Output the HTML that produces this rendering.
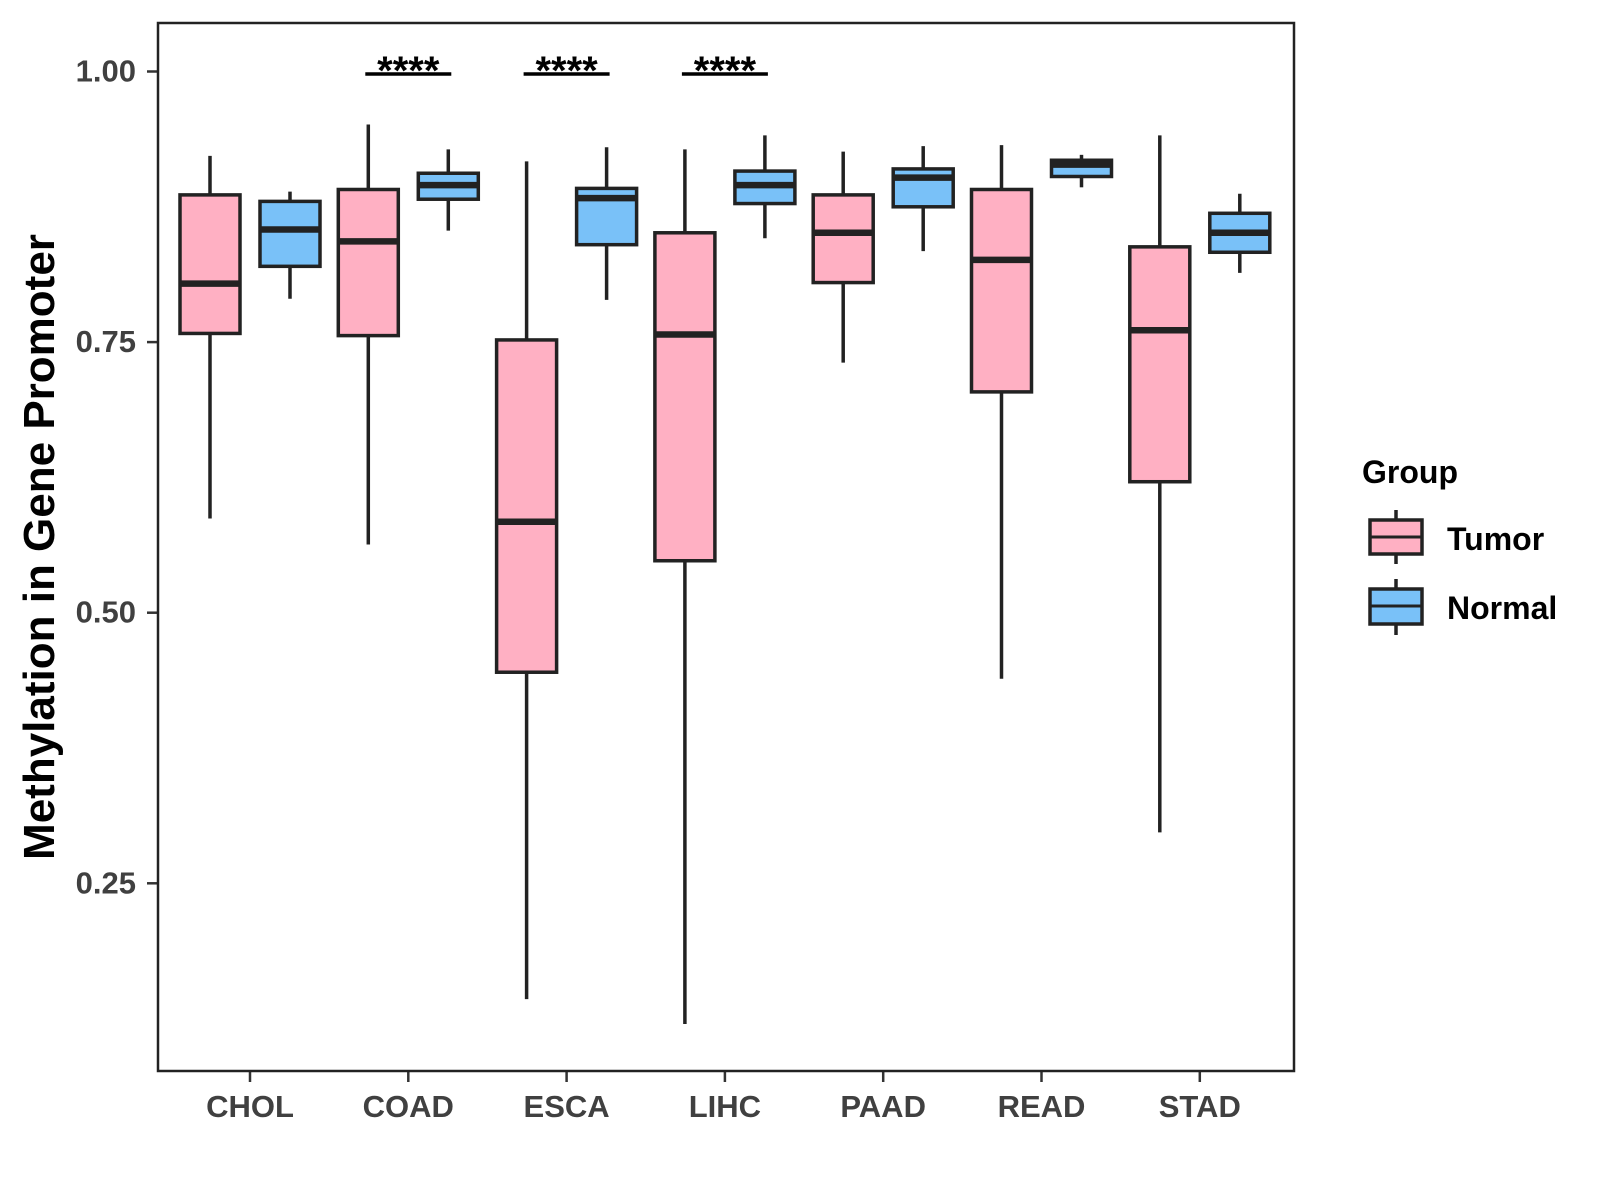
<!DOCTYPE html>
<html><head><meta charset="utf-8"><style>
html,body{margin:0;padding:0;background:#fff;}
svg{display:block;font-family:"Liberation Sans",Arial,sans-serif;}
</style></head><body>
<svg id="chart" width="1600" height="1200" viewBox="0 0 1600 1200">
<rect x="0" y="0" width="1600" height="1200" fill="#fff"/>
<g id="plot"></g>
<rect x="158" y="23" width="1136" height="1048" fill="none" stroke="#222" stroke-width="2.5"/>
<text transform="translate(54,547) rotate(-90)" text-anchor="middle" font-size="44" font-weight="bold" fill="#000">Methylation in Gene Promoter</text>
<g>
<text x="1362" y="483" font-size="32" font-weight="bold" fill="#000">Group</text>
<g>
<line x1="1396" y1="510" x2="1396" y2="564" stroke="#222" stroke-width="3.5"/>
<rect x="1370" y="520" width="52" height="34" fill="#FFB0C3" stroke="#222" stroke-width="3.5"/>
<line x1="1370" y1="537" x2="1422" y2="537" stroke="#222" stroke-width="3"/>
<text x="1447" y="550" font-size="32" font-weight="bold" fill="#000">Tumor</text>
</g>
<g>
<line x1="1396" y1="579" x2="1396" y2="635" stroke="#222" stroke-width="3.5"/>
<rect x="1370" y="589" width="52" height="35" fill="#79C1F8" stroke="#222" stroke-width="3.5"/>
<line x1="1370" y1="606" x2="1422" y2="606" stroke="#222" stroke-width="3"/>
<text x="1447" y="619" font-size="32" font-weight="bold" fill="#000">Normal</text>
</g>
</g>
</svg>
<script>
const categories=["CHOL","COAD","ESCA","LIHC","PAAD","READ","STAD"];
const tumorLow=[0.587,0.563,0.143,0.120,0.731,0.439,0.297];
const tumorQ1=[0.758,0.756,0.445,0.548,0.805,0.704,0.621];
const tumorMed=[0.804,0.843,0.584,0.757,0.851,0.826,0.761];
const tumorQ3=[0.886,0.891,0.752,0.851,0.886,0.891,0.838];
const tumorHigh=[0.922,0.951,0.917,0.928,0.926,0.932,0.941];
const normalLow=[0.790,0.853,0.789,0.846,0.834,0.893,0.814];
const normalQ1=[0.820,0.882,0.840,0.878,0.875,0.903,0.833];
const normalMed=[0.854,0.895,0.883,0.895,0.902,0.914,0.851];
const normalQ3=[0.880,0.906,0.892,0.908,0.910,0.918,0.869];
const normalHigh=[0.889,0.928,0.930,0.941,0.931,0.923,0.887];
const yTicks=[0.25,0.50,0.75,1.00];
const yTickLabels=["0.25","0.50","0.75","1.00"];
const sigCats=["COAD","ESCA","LIHC"];
const sigLabels=["****","****","****"];

const NS="http://www.w3.org/2000/svg";
const g=document.getElementById('plot');
const y=v=>71.5+(1-v)*1082.4;
const x=i=>250+i*158.3;
function mk(t,a,p){const e=document.createElementNS(NS,t);for(const k in a)e.setAttribute(k,a[k]);(p||g).appendChild(e);return e;}

yTicks.forEach((v,i)=>{
  const t=mk('line',{x1:147,x2:158,y1:y(v),y2:y(v),stroke:'#333','stroke-width':2.5});
  
  
  const l=mk('text',{x:136,y:y(v)+10,'text-anchor':'end','font-size':31,'font-weight':'bold',fill:'#404040'});
  l.textContent=yTickLabels[i];
  
  
});
categories.forEach((c,i)=>{
  const t=mk('line',{x1:x(i),x2:x(i),y1:1071,y2:1082,stroke:'#333','stroke-width':2.5});
  
  
  const l=mk('text',{x:x(i),y:1117,'text-anchor':'middle','font-size':31,'font-weight':'bold',fill:'#404040'});
  l.textContent=c;
  
  
});
function box(cx,lo,q1,md,q3,hi,fill,name){
  const gg=mk('g',{});
  
  
  mk('line',{x1:cx,x2:cx,y1:y(hi),y2:y(lo),stroke:'#222','stroke-width':3.5},gg);
  mk('rect',{x:cx-30,y:y(q3),width:60,height:y(q1)-y(q3),fill:fill,stroke:'#222','stroke-width':3.5},gg);
  mk('line',{x1:cx-30,x2:cx+30,y1:y(md),y2:y(md),stroke:'#222','stroke-width':6.5},gg);
}
categories.forEach((c,i)=>{
  box(x(i)-40,tumorLow[i],tumorQ1[i],tumorMed[i],tumorQ3[i],tumorHigh[i],'#FFB0C3','box-tumor-'+c.toLowerCase());
  box(x(i)+40,normalLow[i],normalQ1[i],normalMed[i],normalQ3[i],normalHigh[i],'#79C1F8','box-normal-'+c.toLowerCase());
});
sigCats.forEach((c,k)=>{
  const i=categories.indexOf(c);
  const b=mk('line',{x1:x(i)-43,x2:x(i)+43,y1:74,y2:74,stroke:'#000','stroke-width':3.5});
  
  
  const t=mk('text',{x:x(i),y:84,'text-anchor':'middle','font-size':40,'font-weight':'bold',fill:'#000'});
  t.textContent=sigLabels[k];
  
  
});
</script>
</body></html>
